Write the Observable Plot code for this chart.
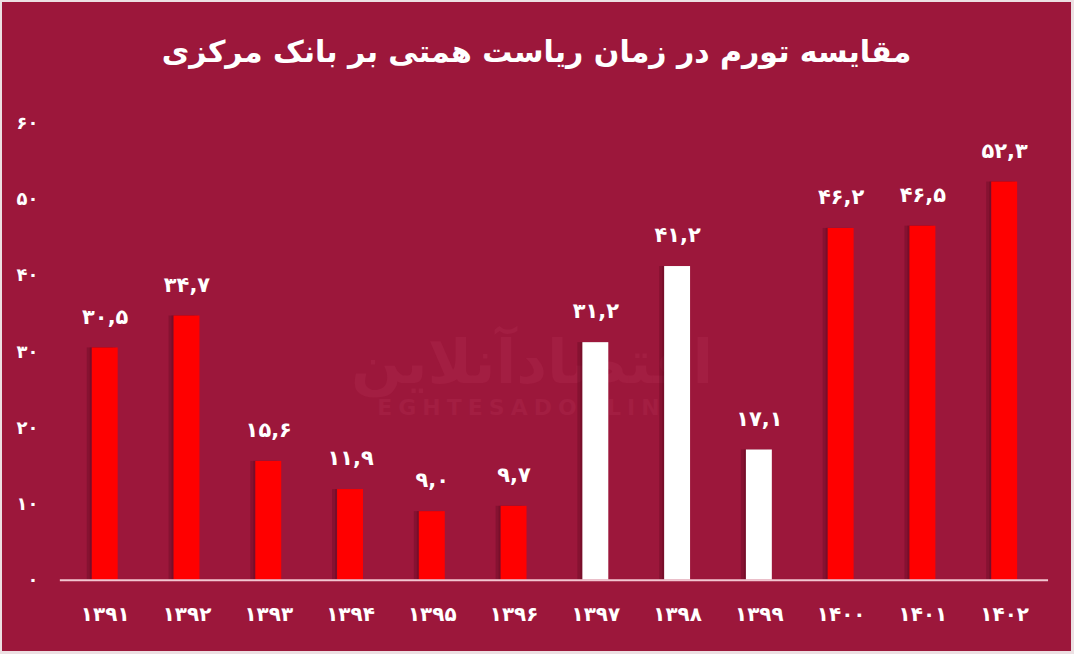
<!DOCTYPE html>
<html><head><meta charset="utf-8">
<script src="https://cdn.jsdelivr.net/npm/d3@7"></script>
<script src="https://cdn.jsdelivr.net/npm/@observablehq/plot@0.6"></script>
<style>
html,body{margin:0;padding:0;background:#efe3e6;}
#frame{position:relative;width:1074px;height:654px;box-sizing:border-box;border:2px solid #ece0e3;border-right-width:3px;border-bottom-width:3px;background:#9c173b;overflow:hidden;font-family:"DejaVu Sans",sans-serif;}
#title{position:absolute;left:0;top:0;width:100%;height:98px;display:flex;align-items:center;justify-content:center;color:#fff;font-weight:bold;font-size:30px;direction:rtl;}
#chart{position:absolute;left:-2px;top:98px;}
#wm{position:absolute;left:250px;top:330px;width:560px;text-align:center;color:#a31e42;pointer-events:none;}
#wm .fa{font-size:60px;font-weight:bold;direction:rtl;line-height:60px;height:60px;}
#wm .en{font-size:22px;font-weight:bold;letter-spacing:6px;line-height:24px;margin-top:4px;}
</style></head>
<body>
<div id="frame">
  <div id="wm"><div class="fa">اقتصادآنلاین</div><div class="en">EGHTESADONLINE</div></div>
  <div id="title">مقایسه تورم در زمان ریاست همتی بر بانک مرکزی</div>
  <div id="chart"></div>
</div>
<script>
const years = ["۱۳۹۱","۱۳۹۲","۱۳۹۳","۱۳۹۴","۱۳۹۵","۱۳۹۶","۱۳۹۷","۱۳۹۸","۱۳۹۹","۱۴۰۰","۱۴۰۱","۱۴۰۲"];
const values = [30.5, 34.7, 15.6, 11.9, 9.0, 9.7, 31.2, 41.2, 17.1, 46.2, 46.5, 52.3];
const valueLabels = ["۳۰,۵","۳۴,۷","۱۵,۶","۱۱,۹","۹,۰","۹,۷","۳۱,۲","۴۱,۲","۱۷,۱","۴۶,۲","۴۶,۵","۵۲,۳"];
const hemmati = [false,false,false,false,false,false,true,true,true,false,false,false];
const yTicks = [0,10,20,30,40,50,60];
const yTickLabels = ["۰","۱۰","۲۰","۳۰","۴۰","۵۰","۶۰"];

const data = years.map((y,i)=>({year:y, value:values[i], label:valueLabels[i], hemmati:hemmati[i]}));

const plot = Plot.plot({
  width: 1074,
  height: 555,
  marginTop: 23,
  marginBottom: 74,
  marginLeft: 60,
  marginRight: 23,
  style: {background: "transparent", fontFamily: "DejaVu Sans, sans-serif", color: "#fff"},
  x: {domain: years, paddingInner: 0.685, paddingOuter: 0.34, label: null},
  y: {domain: [0, 60], label: null},
  axis: null,
  marks: [
    Plot.barY(data, {x: "year", y: "value", dx: -5, fill: "#5e0a20", fillOpacity: 0.35}),
    Plot.barY(data, {x: "year", y: "value", dx: -2, fill: "#5e0a20", fillOpacity: 0.35}),
    Plot.barY(data, {x: "year", y: "value", fill: d => d.hemmati ? "#ffffff" : "#ff0000"}),
    Plot.ruleY([0], {stroke: "#f2c6d1", strokeWidth: 2}),
    Plot.text(data, {x: "year", y: "value", text: "label", dy: -31, fill: "#fff", fontSize: 21, fontWeight: "bold"}),
    Plot.axisY(yTicks, {tickSize: 0, tickPadding: 22, tickFormat: d => yTickLabels[yTicks.indexOf(d)], fill: "#fff", fontSize: 18, fontWeight: "bold", label: null}),
    Plot.axisX(years, {tickSize: 0, tickPadding: 27, fill: "#fff", fontSize: 20, fontWeight: "bold", label: null})
  ]
});
document.getElementById("chart").appendChild(plot);
</script>
</body></html>
